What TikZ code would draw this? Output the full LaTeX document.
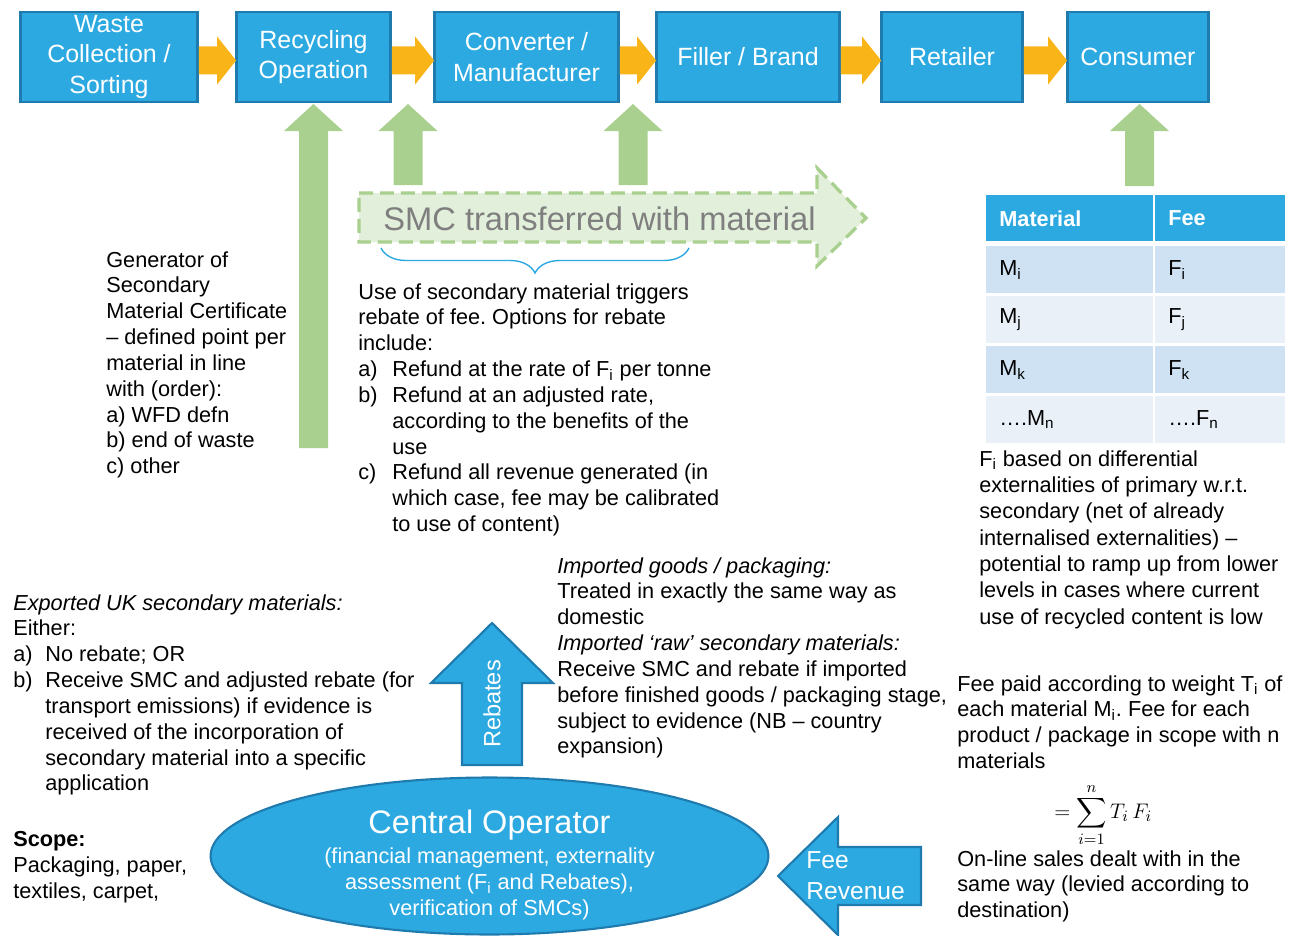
\documentclass[tikz,border=0pt]{standalone}
\usepackage{amsmath}
\usepackage{fontspec}
\setmainfont{Liberation Sans}
\usetikzlibrary{shapes.geometric,decorations.pathreplacing,calc}
\definecolor{boxblue}{HTML}{2CA9E1}
\definecolor{boxedge}{HTML}{1F7BAE}
\definecolor{flowgold}{HTML}{F9B418}
\definecolor{leafgreen}{HTML}{A9D08E}
\definecolor{paleleaf}{HTML}{E2EFDA}
\definecolor{rowdark}{HTML}{CFE2F3}
\definecolor{rowlight}{HTML}{E9F0F8}
\definecolor{smcgrey}{HTML}{7F7F7F}

\frenchspacing
\newcommand{\bodyfont}{\fontsize{12.35pt}{14.7pt}\selectfont}
\newcommand{\lowidx}[1]{\textsubscript{#1}}
% green block arrow pointing up: centre x, bottom y, tip y
\newcommand{\greenup}[3]{%
  \fill[leafgreen] ({#1-14.5},#2) -- ({#1-14.5},{#3+27}) -- ({#1-29.5},{#3+27}) -- (#1,#3)
    -- ({#1+29.5},{#3+27}) -- ({#1+14.5},{#3+27}) -- ({#1+14.5},#2) -- cycle;}

\begin{document}
\begin{tikzpicture}[x=0.02cm, y=-0.02cm,
  stage/.style={draw=boxedge, line width=1.6pt, fill=boxblue, text=white, inner sep=0pt,
    minimum height=1.8cm, align=center, font=\fontsize{14.2pt}{17.4pt}\selectfont},
  note/.style={anchor=north west, align=left, inner sep=0pt, font=\bodyfont},
  cell/.style={anchor=north west, inner xsep=0.26cm, inner ysep=0pt, minimum height=0.94cm,
    align=left, font=\bodyfont}]
\useasboundingbox (0,0) rectangle (1301,936);

% supply chain
\node[stage, minimum width=3.54cm] (waste) at (109,57) {Waste\\Collection /\\Sorting};
\node[stage, minimum width=3.08cm] (recycle) at (313.5,57) {Recycling\\Operation};
\node[stage, minimum width=3.68cm] (convert) at (526.5,57) {Converter /\\Manufacturer};
\node[stage, minimum width=3.66cm] (filler) at (748,57) {Filler / Brand};
\node[stage, minimum width=2.82cm] (retail) at (952,57) {Retailer};
\node[stage, minimum width=2.82cm] (consumer) at (1138,57) {Consumer};

\foreach \a/\b in {waste/recycle, recycle/convert, convert/filler, filler/retail, retail/consumer}
  \fill[flowgold] ($(\a.east)+(0,-10.5)$) -- ($(\b.west)+(-18,-10.5)$) -- ($(\b.west)+(-18,-20.5)$)
    -- ($(\b.west)+(1,3.5)$) -- ($(\b.west)+(-18,27.5)$) -- ($(\b.west)+(-18,17.5)$)
    -- ($(\a.east)+(0,17.5)$) -- cycle;

% certificates going up
\greenup{313.5}{448}{104}
\greenup{408}{185}{104}
\greenup{633}{185}{104}
\greenup{1139.5}{186}{104}

\draw[leafgreen, fill=paleleaf, line width=1.9pt, dash pattern=on 0.28cm off 0.14cm]
  (359,193) -- (817,193) -- (817,168) -- (866,218) -- (817,266) -- (817,242) -- (359,242) -- cycle;
\node[anchor=base west, inner sep=0pt, text=smcgrey, font=\fontsize{18.6pt}{22pt}\selectfont]
  (smc) at (383,230) {SMC transferred with material};
\draw[boxblue, line width=0.8pt, decorate, decoration={brace, mirror, amplitude=0.5cm}]
  (381,248) -- (689,248);

\node[note] (generator) at (106,251) {Generator of\\Secondary\\Material Certificate\\– defined point per\\material in line\\with (order):\\a) WFD defn\\b) end of waste\\c) other};

\node[note] (rebate) at (358,283) {Use of secondary material triggers\\rebate of fee. Options for rebate\\include:\\
  \makebox[0.68cm][l]{a)}Refund at the rate of F\lowidx{i} per tonne\\
  \makebox[0.68cm][l]{b)}Refund at an adjusted rate,\\
  \hspace*{0.68cm}according to the benefits of the\\
  \hspace*{0.68cm}use\\
  \makebox[0.68cm][l]{c)}Refund all revenue generated (in\\
  \hspace*{0.68cm}which case, fee may be calibrated\\
  \hspace*{0.68cm}to use of content)};

% fee table
\node[cell, fill=boxblue, text=white, text width=2.82cm, minimum height=0.92cm] (mathead) at (986,195) {\textbf{Material}};
\node[cell, fill=boxblue, text=white, text width=2.08cm, minimum height=0.92cm] (feehead) at (1155,195) {\textbf{Fee}};
\foreach \r/\m/\f/\c in {0/M\lowidx{i}/F\lowidx{i}/rowdark, 1/M\lowidx{j}/F\lowidx{j}/rowlight,
    2/M\lowidx{k}/F\lowidx{k}/rowdark, 3/….M\lowidx{n}/….F\lowidx{n}/rowlight} {
  \node[cell, fill=\c, text width=2.82cm] (mat\r) at (986,246+50*\r) {\m};
  \node[cell, fill=\c, text width=2.08cm] (fee\r) at (1155,246+50*\r) {\f};
}

\node[note, font=\fontsize{12.35pt}{15pt}\selectfont] (fibasis) at (979,450) {F\lowidx{i} based on differential\\externalities of primary w.r.t.\\secondary (net of already\\internalised externalities) –\\potential to ramp up from lower\\levels in cases where current\\use of recycled content is low};

\node[note] (imported) at (557,557) {\textit{Imported goods / packaging:}\\Treated in exactly the same way as\\domestic\\\textit{Imported ‘raw’ secondary materials:}\\Receive SMC and rebate if imported\\before finished goods / packaging stage,\\subject to evidence (NB – country\\expansion)};

\node[note] (exported) at (13,594) {\textit{Exported UK secondary materials:}\\Either:\\
  \makebox[0.64cm][l]{a)}No rebate; OR\\
  \makebox[0.64cm][l]{b)}Receive SMC and adjusted rebate (for\\
  \hspace*{0.64cm}transport emissions) if evidence is\\
  \hspace*{0.64cm}received of the incorporation of\\
  \hspace*{0.64cm}secondary material into a specific\\
  \hspace*{0.64cm}application};

\node[note] (scope) at (13,831) {\textbf{Scope:}\\Packaging, paper,\\textiles, carpet,};

% central operator
\draw[boxedge, fill=boxblue, line width=1.2pt] (492,623) -- (553,683) -- (522,683) -- (522,765)
  -- (462,765) -- (462,683) -- (431,683) -- cycle;
\node[rotate=90, text=white, inner sep=0pt, font=\fontsize{13.4pt}{16pt}\selectfont] (rebates) at (492,704) {Rebates};

\node[ellipse, draw=boxedge, fill=boxblue, line width=1.2pt, minimum width=11.16cm,
  minimum height=3.14cm, inner sep=0pt] (central) at (489.5,856) {};
\node[text=white, align=center, inner sep=0pt, font=\bodyfont] (centraltxt) at (489.5,865)
  {{\fontsize{18.5pt}{22pt}\selectfont Central Operator}\\[2.3pt](financial management, externality\\assessment (F\lowidx{i} and Rebates),\\verification of SMCs)};

\draw[boxedge, fill=boxblue, line width=1.2pt] (778,876) -- (838,817) -- (838,847) -- (921,847)
  -- (921,905) -- (838,905) -- (838,935) -- cycle;
\node[anchor=north west, align=left, inner sep=0pt, text=white, font=\fontsize{14pt}{17.6pt}\selectfont]
  (feerev) at (806,851) {Fee\\Revenue};

\node[note] (feepaid) at (957,675) {Fee paid according to weight T\lowidx{i} of\\each material M\lowidx{i}. Fee for each\\product / package in scope with n\\materials};
\node[anchor=west, inner sep=0pt, font=\fontsize{12.6pt}{15pt}\selectfont] (feesum) at (1054,815)
  {$\displaystyle = \sum_{i=1}^{n} T_i\,F_i$};
\node[note] (online) at (957,850) {On-line sales dealt with in the\\same way (levied according to\\destination)};
\end{tikzpicture}
\end{document}
